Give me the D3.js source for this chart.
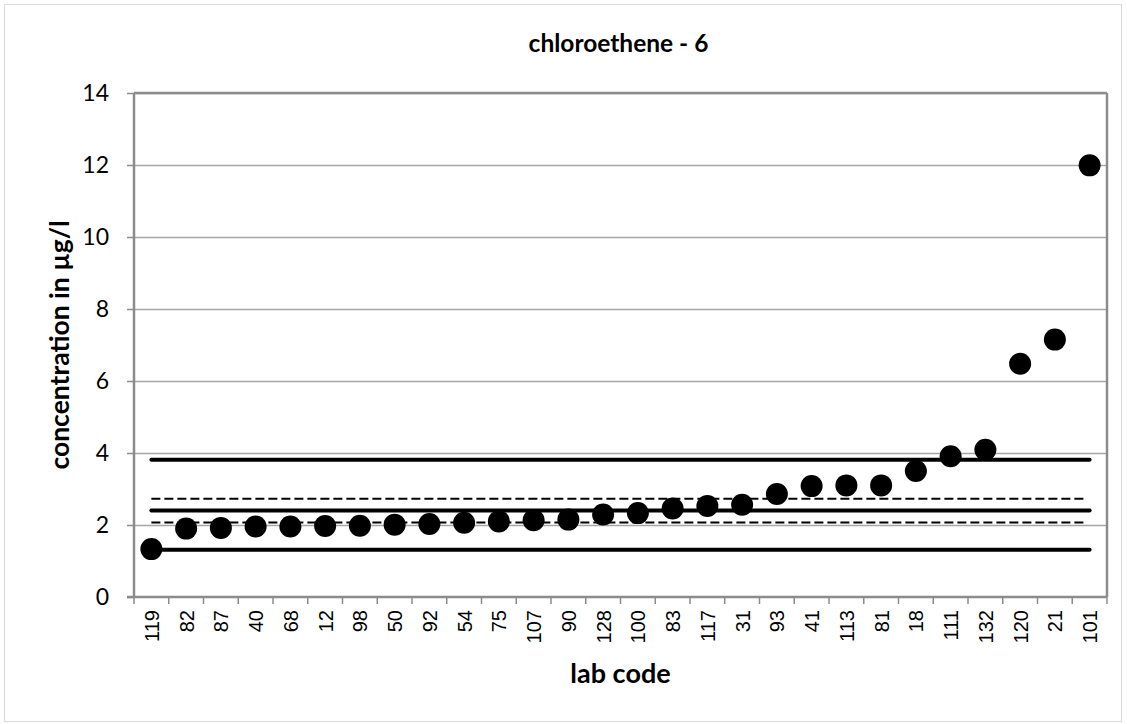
<!DOCTYPE html>
<html><head><meta charset="utf-8">
<script src="https://cdn.jsdelivr.net/npm/d3@7"></script>
<style>body{margin:0;background:#fff}svg{display:block}</style>
</head><body>
<svg id="c" width="1127" height="724"></svg>
<script>
const labs = ["119","82","87","40","68","12","98","50","92","54","75","107","90","128","100","83","117","31","93","41","113","81","18","111","132","120","21","101"];
const values = [1.33,1.90,1.92,1.96,1.96,1.97,1.98,2.01,2.03,2.06,2.10,2.13,2.15,2.29,2.33,2.46,2.53,2.56,2.86,3.08,3.10,3.10,3.50,3.91,4.09,6.48,7.15,11.99];
const solidLines = [3.81, 2.40, 1.31];
const dashedLines = [2.73, 2.07];
const yTicks = [0,2,4,6,8,10,12,14];
const title = "chloroethene - 6";
const yLabel = "concentration in µg/l";
const xLabel = "lab code";

const svg = d3.select("#c");
const L = 134, R = 1107, T = 93, B = 597;
svg.append("rect").attr("x",4.5).attr("y",4.5).attr("width",1117).attr("height",717)
  .attr("fill","#fff").attr("stroke","#d9d9d9").attr("stroke-width",1);

const x = d3.scaleBand().domain(labs).range([L,R]);
const y = d3.scaleLinear().domain([0,14]).range([B,T]);
const cx = d => x(d) + x.bandwidth()/2;

// gridlines
svg.append("g").selectAll("line").data(yTicks.filter(t=>t>0)).join("line")
  .attr("x1",L).attr("x2",R).attr("y1",d=>Math.round(y(d))+0.5).attr("y2",d=>Math.round(y(d))+0.5)
  .attr("stroke","#a6a6a6").attr("stroke-width",1.5);

// y axis
const ya = svg.append("g").attr("transform",`translate(${L},0)`)
  .call(d3.axisLeft(y).tickValues(yTicks).tickSize(7).tickPadding(18).tickFormat(d3.format("d")));
ya.select(".domain").attr("stroke","#8c8c8c").attr("stroke-width",2.5).attr("d",`M0,${T}V${B}`);
ya.selectAll(".tick line").attr("stroke","#8c8c8c").attr("stroke-width",1.5);
ya.selectAll(".tick text").attr("font-family","Lato, 'Open Sans', sans-serif").attr("font-size",23).attr("fill","#000");

// right/top border of plot
svg.append("line").attr("x1",R).attr("x2",R).attr("y1",T).attr("y2",B).attr("stroke","#8c8c8c").attr("stroke-width",2.5);
svg.append("line").attr("x1",L).attr("x2",R).attr("y1",T).attr("y2",T).attr("stroke","#8c8c8c").attr("stroke-width",2.5);

// x axis
const xa = svg.append("g").attr("transform",`translate(0,${B})`);
xa.append("line").attr("x1",L-7).attr("x2",R).attr("y1",0).attr("y2",0).attr("stroke","#8c8c8c").attr("stroke-width",2.5);
const bounds = labs.map(d=>x(d)).concat([R]);
xa.selectAll("line.t").data(bounds).join("line").attr("class","t")
  .attr("x1",d=>d).attr("x2",d=>d).attr("y1",0).attr("y2",7).attr("stroke","#8c8c8c").attr("stroke-width",1.5);
xa.selectAll("text").data(labs).join("text")
  .attr("transform",d=>`translate(${cx(d)+7.5},13) rotate(-90)`)
  .attr("text-anchor","end").attr("font-family","'Liberation Sans', Arial, sans-serif").attr("font-size",20)
  .text(d=>d);

// reference lines
const x0 = cx(labs[0]), x1 = cx(labs[labs.length-1]);
svg.append("g").selectAll("line").data(solidLines).join("line")
  .attr("x1",x0).attr("x2",x1).attr("y1",d=>y(d)).attr("y2",d=>y(d))
  .attr("stroke","#000").attr("stroke-width",4).attr("stroke-linecap","round");
svg.append("g").selectAll("line").data(dashedLines).join("line")
  .attr("x1",x0).attr("x2",x1-4).attr("y1",d=>y(d)).attr("y2",d=>y(d))
  .attr("stroke","#000").attr("stroke-width",2).attr("stroke-dasharray","9,4");

// points
svg.append("g").selectAll("circle").data(labs).join("circle")
  .attr("cx",d=>cx(d)).attr("cy",(d,i)=>y(values[i])).attr("r",11).attr("fill","#000");

// titles
svg.append("text").attr("x",(L+R)/2 - 2).attr("y",52).attr("text-anchor","middle")
  .attr("font-family","Lato, 'Open Sans', sans-serif").attr("font-weight","bold").attr("font-size",24.5).text(title);
svg.append("text").attr("x",(L+R)/2).attr("y",683).attr("text-anchor","middle")
  .attr("font-family","Lato, 'Open Sans', sans-serif").attr("font-weight","bold").attr("font-size",27).text(xLabel);
svg.append("text").attr("transform",`translate(69,${(T+B)/2}) rotate(-90)`).attr("text-anchor","middle")
  .attr("font-family","Lato, 'Open Sans', sans-serif").attr("font-weight","bold").attr("font-size",26.5).text(yLabel);
</script>
</body></html>
